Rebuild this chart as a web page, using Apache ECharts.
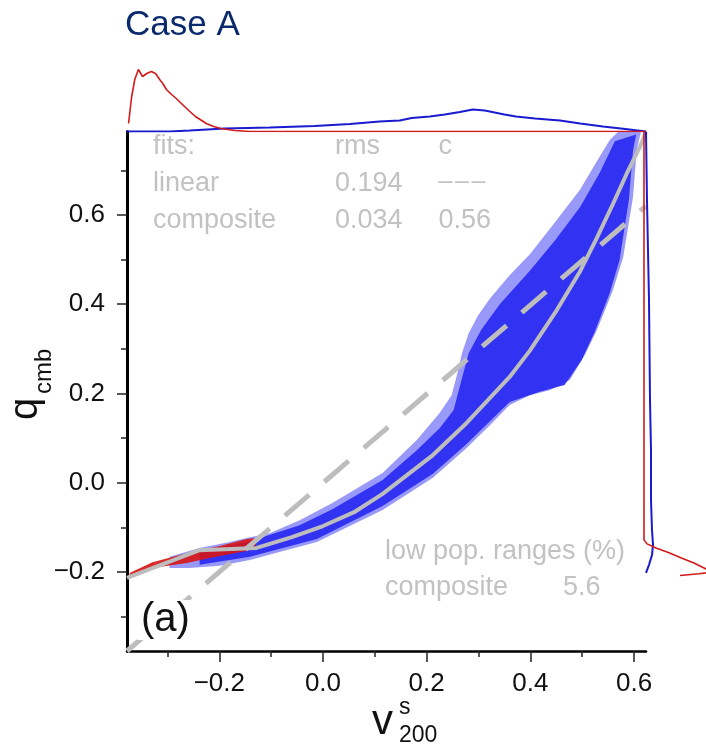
<!DOCTYPE html>
<html><head><meta charset="utf-8">
<script src="https://cdn.jsdelivr.net/npm/echarts@6/dist/echarts.min.js"></script>
<style>html,body{margin:0;padding:0;background:#fff}#c{width:706px;height:752px}</style>
</head><body><div id="c"></div>
<script>
// ---- axis ticks ----
const xMajorTicks = [-0.2, 0.0, 0.2, 0.4, 0.6];
const xMinorTicks = [-0.3, -0.1, 0.1, 0.3, 0.5];
const yMajorTicks = [-0.2, 0.0, 0.2, 0.4, 0.6];
const yMinorTicks = [-0.3, -0.1, 0.1, 0.3, 0.5, 0.7];

// ---- blue point cloud envelope (x, q) ----
const blueUpper = [[-0.296,-0.166],[-0.238,-0.146],[-0.180,-0.133],[-0.141,-0.122],[-0.103,-0.113],[-0.045,-0.084],[0.019,-0.045],[0.115,0.022],[0.181,0.096],[0.225,0.156],[0.248,0.196],[0.258,0.240],[0.268,0.290],[0.281,0.335],[0.299,0.375],[0.322,0.413],[0.360,0.465],[0.399,0.512],[0.443,0.577],[0.496,0.657],[0.528,0.720],[0.553,0.768],[0.569,0.786],[0.611,0.787]];
const blueLower = [[-0.296,-0.191],[-0.258,-0.191],[-0.199,-0.186],[-0.141,-0.173],[-0.084,-0.155],[-0.012,-0.133],[0.115,-0.061],[0.212,0.011],[0.277,0.078],[0.322,0.129],[0.360,0.174],[0.399,0.196],[0.437,0.207],[0.476,0.230],[0.505,0.286],[0.528,0.341],[0.559,0.431],[0.579,0.505],[0.598,0.640],[0.605,0.745],[0.613,0.785]];
// denser core of the blue cloud
const coreUpper = [[-0.238,-0.155],[-0.141,-0.131],[-0.045,-0.095],[0.019,-0.059],[0.115,0.006],[0.181,0.073],[0.225,0.122],[0.252,0.163],[0.266,0.225],[0.281,0.290],[0.305,0.342],[0.341,0.400],[0.399,0.475],[0.447,0.542],[0.496,0.618],[0.534,0.695],[0.563,0.765]];
const coreLower = [[-0.238,-0.184],[-0.141,-0.166],[-0.012,-0.126],[0.115,-0.052],[0.212,0.020],[0.277,0.087],[0.360,0.181],[0.418,0.204],[0.466,0.219],[0.499,0.275],[0.524,0.338],[0.553,0.425],[0.572,0.499],[0.590,0.634],[0.598,0.745],[0.604,0.780]];
// red point cloud envelope
const redUpper = [[-0.373,-0.202],[-0.329,-0.178],[-0.263,-0.158],[-0.199,-0.142],[-0.147,-0.126],[-0.130,-0.124]];
const redLower = [[-0.373,-0.213],[-0.329,-0.191],[-0.263,-0.180],[-0.199,-0.164],[-0.147,-0.153],[-0.130,-0.142]];

// ---- fits ----
const linearFit = [[-0.378,-0.377],[0.623,0.620]];
const compositeFit = [[-0.378,-0.213],[-0.238,-0.151],[-0.128,-0.146],[-0.060,-0.122],[0.000,-0.097],[0.060,-0.066],[0.115,-0.025],[0.212,0.062],[0.277,0.134],[0.360,0.237],[0.399,0.296],[0.451,0.387],[0.496,0.474],[0.528,0.548],[0.559,0.624],[0.586,0.693],[0.611,0.752],[0.623,0.785]];

// ---- marginal densities (arbitrary units) ----
const topBlue = [[-0.379,0],[-0.296,0],[-0.257,1],[-0.190,3],[-0.103,4],[-0.016,5.4],[0.052,7.5],[0.109,10],[0.148,11],[0.171,13.6],[0.206,15],[0.235,17],[0.264,19.5],[0.289,22],[0.312,21],[0.331,19],[0.350,17],[0.372,15],[0.409,13],[0.457,11],[0.496,8],[0.540,5],[0.583,2.5],[0.623,0]];
const topRed = [[-0.375,8],[-0.369,35],[-0.363,52],[-0.356,62],[-0.348,55],[-0.340,58],[-0.331,60],[-0.323,58],[-0.315,52],[-0.309,48],[-0.302,42],[-0.292,37],[-0.283,33],[-0.273,28],[-0.259,21],[-0.246,15],[-0.234,11],[-0.225,8],[-0.211,5],[-0.197,3],[-0.170,1],[-0.141,0],[0.623,0]];
const rightBlue = [[2,0.787],[3,0.632],[5,0.409],[6,0.185],[7,0.073],[7,-0.039],[8,-0.106],[9,-0.139],[8,-0.162],[5,-0.184],[2,-0.202]];
const rightRed = [[0,0.787],[0,-0.128],[3,-0.137],[12,-0.146],[25,-0.157],[38,-0.169],[50,-0.180],[60,-0.191],[68,-0.200],[55,-0.204],[36,-0.208]];

// ---- texts ----
const fitsTable = [["fits:","rms","c"],["linear","0.194","–––"],["composite","0.034","0.56"]];
const lowPopTable = [["low pop. ranges (%)",""],["composite","5.6"]];

const xMin=-0.378, xMax=0.623, yMin=-0.377, yMax=0.787;
const FONT = "'Liberation Sans', Arial, Helvetica, sans-serif";
const GRAY = '#c2c2c2';
const fmt = v => (v<0?'\u2212':'') + Math.abs(v).toFixed(1);

function poly(upper, lower, fill){
  return {type:'custom', xAxisIndex:0, yAxisIndex:0, silent:true, clip:true, data:[[0,0]],
    renderItem:(p, api)=>{
      const pts = upper.concat(lower.slice().reverse()).map(d=>api.coord(d));
      return {type:'polygon', shape:{points:pts}, style:{fill:fill}};
    }};
}
function line(data, xi, yi, color, width, type){
  return {type:'line', xAxisIndex:xi, yAxisIndex:yi, data:data, symbol:'none', silent:true,
    lineStyle:{color:color, width:width, type:type||'solid', cap:'butt'}, z:3};
}
function gtext(t, x, y, size, fill, extra){
  return Object.assign({type:'text', x:x, y:y, silent:true, z:50,
    style:{text:t, fill:fill, fontSize:size, fontFamily:FONT, align:'left', verticalAlign:'middle'}}, extra||{});
}

const texts = [];
const colX = [153, 335, 438.5], rowY = [147, 184, 221];
fitsTable.forEach((r,i)=>r.forEach((t,j)=>{
  if (/^–+$/.test(t)) {
    t.split('').forEach((ch,k)=>texts.push(gtext(ch, colX[j]+k*16.5, rowY[i]-2, 25, GRAY)));
  } else texts.push(gtext(t, colX[j], rowY[i], 27, GRAY));
}));
const lpX = [385, 563], lpY = [552, 588];
lowPopTable.forEach((r,i)=>r.forEach((t,j)=>{ if (t) texts.push(gtext(t, lpX[j], lpY[i], 27, GRAY)); }));
texts.push(gtext('Case A', 125, 25, 35, '#0b2a6e'));
const aLabel = gtext('(a)', 137, 620, 40, '#111');
aLabel.style.backgroundColor = '#fff';
aLabel.style.padding = [0, 4, 0, 4];
texts.push(aLabel);
// y axis name q_cmb (rotated)
texts.push(gtext('q', 26, 420, 40, '#111', {rotation:Math.PI/2}));
texts.push(gtext('cmb', 44, 394, 24, '#111', {rotation:Math.PI/2}));
// x axis name v^s_200
texts.push(gtext('v', 372, 722, 42, '#111'));
texts.push(gtext('s', 399, 708, 23, '#111'));
texts.push(gtext('200', 399, 736, 23, '#111'));

const axisText = {color:'#111', fontSize:26, fontFamily:FONT};
const hidden = {show:false};

const option = {
  animation:false,
  backgroundColor:'#fff',
  grid:[
    {left:127, top:131.5, width:519, height:519.5},
    {left:127, top:31.5, width:519, height:100},
    {left:644, right:0, top:131.5, height:519.5}
  ],
  xAxis:[
    {type:'value', gridIndex:0, min:xMin, max:xMax, position:'bottom',
      axisLine:{show:true, onZero:false, lineStyle:{color:'#000', width:2.5}},
      axisTick:{show:true, inside:false, length:11, customValues:xMajorTicks, lineStyle:{color:'#222', width:1.5}},
      axisLabel:{show:true, customValues:xMajorTicks, formatter:fmt, margin:20, ...axisText},
      splitLine:hidden},
    {type:'value', gridIndex:0, min:xMin, max:xMax, position:'bottom',
      axisLine:{show:false, onZero:false}, axisTick:{show:true, length:6, customValues:xMinorTicks, lineStyle:{color:'#222', width:1.5}},
      axisLabel:hidden, splitLine:hidden},
    {type:'value', gridIndex:1, min:xMin, max:xMax, show:false},
    {type:'value', gridIndex:2, min:0, max:62, show:false}
  ],
  yAxis:[
    {type:'value', gridIndex:0, min:yMin, max:yMax, position:'left',
      axisLine:{show:true, onZero:false, lineStyle:{color:'#000', width:3}},
      axisTick:{show:true, inside:false, length:10, customValues:yMajorTicks, lineStyle:{color:'#222', width:1.5}},
      axisLabel:{show:true, customValues:yMajorTicks, formatter:fmt, margin:22, ...axisText},
      splitLine:hidden},
    {type:'value', gridIndex:0, min:yMin, max:yMax, position:'left',
      axisLine:{show:false, onZero:false}, axisTick:{show:true, length:6, customValues:yMinorTicks, lineStyle:{color:'#222', width:1.5}},
      axisLabel:hidden, splitLine:hidden},
    {type:'value', gridIndex:1, min:0, max:100, show:false},
    {type:'value', gridIndex:2, min:yMin, max:yMax, show:false}
  ],
  series:[
    poly(blueUpper, blueLower, 'rgba(70,70,245,0.55)'),
    poly(coreUpper, coreLower, 'rgba(35,35,240,0.88)'),
    poly(redUpper, redLower, 'rgba(215,20,20,0.9)'),
    line(linearFit, 0, 0, '#bdbdbd', 5, [32,20]),
    line(compositeFit, 0, 0, '#bdbdbd', 4),
    line(topBlue, 2, 2, '#1a1ad0', 2),
    line(topRed, 2, 2, '#d21a1a', 1.6),
    line(rightBlue, 3, 3, '#1a1ad0', 2),
    line(rightRed, 3, 3, '#d21a1a', 1.6)
  ],
  graphic:texts
};
const chart = echarts.init(document.getElementById('c'), null, {renderer:'canvas'});
chart.setOption(option);
</script></body></html>
